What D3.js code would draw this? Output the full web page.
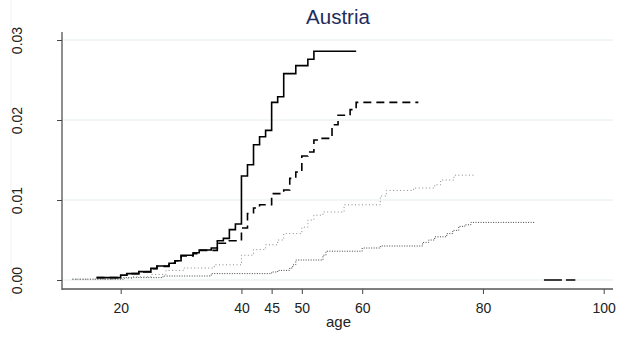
<!DOCTYPE html>
<html>
<head>
<meta charset="utf-8">
<script src="https://cdn.jsdelivr.net/npm/d3@7"></script>
<style>
  html, body { margin: 0; padding: 0; background: #fff; }
  svg { display: block; font-family: "Liberation Sans", Arial, sans-serif; }
</style>
</head>
<body>
<svg id="chart" width="630" height="342"></svg>
<script>
// ---- data ----
const title = "Austria";
const xLabel = "age";
const xTicks = [20, 40, 45, 50, 60, 80, 100];
const yTicks = [0, 0.01, 0.02, 0.03];

// series 1: solid
const solidAges = [16, 20, 21, 23, 25, 26, 28, 29, 30, 32, 33, 35, 36, 37, 38, 39, 40, 41, 42, 43, 44, 45, 46, 47, 49, 51, 52, 59];
const solidVals = [0.0003, 0.0006, 0.0008, 0.00105, 0.00145, 0.00175, 0.0021, 0.0024, 0.0031, 0.0034, 0.00375, 0.0040, 0.0049, 0.0052, 0.0063, 0.0070, 0.0130, 0.0144, 0.0169, 0.0179, 0.0187, 0.0222, 0.0229, 0.0258, 0.0268, 0.0276, 0.0286, 0.0286];

// series 2: dashed
const dashedAges = [16, 20, 21, 23, 25, 26, 28, 29, 30, 32, 33, 36, 38, 40, 41, 42, 43, 45, 47, 48, 49, 50, 51, 52, 53, 55, 56, 58, 59, 69.3];
const dashedVals = [0.0003, 0.0006, 0.0008, 0.0010, 0.0014, 0.0017, 0.0021, 0.0024, 0.0030, 0.0033, 0.0037, 0.0046, 0.0049, 0.0065, 0.0083, 0.0090, 0.0094, 0.0108, 0.01125, 0.0127, 0.0135, 0.0155, 0.0160, 0.0175, 0.0177, 0.0194, 0.0206, 0.0213, 0.0222, 0.0222];

// series 3: light dotted (upper)
const dotAAges = [12, 19, 22, 25, 27.5, 30.5, 35.5, 40, 42, 44, 46, 47, 50, 51, 52, 53.5, 57, 63, 64, 68.5, 72, 73, 75.2, 78.8];
const dotAVals = [0.0001, 0.0002, 0.0004, 0.0007, 0.0012, 0.0015, 0.0019, 0.0031, 0.0038, 0.0044, 0.0050, 0.0058, 0.0066, 0.0075, 0.0081, 0.0085, 0.0094, 0.0105, 0.0112, 0.0115, 0.0119, 0.0125, 0.0131, 0.0131];

// series 4: dark dotted (lower)
const dotBAges = [12, 20.5, 27, 35, 45, 46, 48, 48.5, 49, 53.5, 54, 60, 63, 70, 71, 72, 74, 75, 76, 77, 78, 88.7];
const dotBVals = [0.0001, 0.0003, 0.0005, 0.0008, 0.0010, 0.0012, 0.0015, 0.0019, 0.0025, 0.0031, 0.0036, 0.0040, 0.00425, 0.0047, 0.0050, 0.0054, 0.0058, 0.0062, 0.0067, 0.0069, 0.0072, 0.0072];

// series 5: long dash at zero
const longAges = [90.1, 95.3];
const longVals = [0, 0];

// ---- drawing ----
const svg = d3.select("#chart");
svg.append("rect").attr("width", 630).attr("height", 342).attr("fill", "#fff");

const x = d3.scaleLinear().domain([20, 100]).range([120.7, 603.7]);
const y = d3.scaleLinear().domain([0, 0.03]).range([280, 40]);
const plotLeft = 62, plotRight = 613, axisY = 289, plotTop = 32;

// faint outer border line
svg.append("line").attr("x1", 11).attr("x2", 11).attr("y1", 0).attr("y2", 300)
  .attr("stroke", "#eef3f4").attr("stroke-width", 1);

// gridlines
svg.append("g").selectAll("line").data(yTicks).join("line")
  .attr("x1", plotLeft).attr("x2", plotRight)
  .attr("y1", d => y(d)).attr("y2", d => y(d))
  .attr("stroke", "#e3ecee").attr("stroke-width", 1);

// y axis
const yAxis = d3.axisLeft(y).tickValues(yTicks).tickSize(5).tickFormat(d3.format(".2f"));
const gy = svg.append("g").attr("transform", `translate(${plotLeft},0)`).call(yAxis);
gy.select(".domain").remove();
gy.selectAll(".tick line").attr("stroke", "#444").attr("stroke-width", 1);
gy.selectAll(".tick text")
  .attr("transform", "translate(-40,0) rotate(-90)")
  .attr("x", 0).attr("y", 0).attr("dy", "0")
  .attr("text-anchor", "middle")
  .attr("font-size", 14).attr("fill", "#222")
  .attr("font-family", "Liberation Sans, Arial, sans-serif");
svg.append("line").attr("x1", plotLeft).attr("x2", plotLeft).attr("y1", plotTop).attr("y2", axisY + 1)
  .attr("stroke", "#444").attr("stroke-width", 1.2);

// x axis
const xAxis = d3.axisBottom(x).tickValues(xTicks).tickSize(5).tickFormat(d3.format("d"));
const gx = svg.append("g").attr("transform", `translate(0,${axisY})`).call(xAxis);
gx.select(".domain").remove();
gx.selectAll(".tick line").attr("stroke", "#444").attr("stroke-width", 1);
gx.selectAll(".tick text").attr("y", 24).attr("dy", "0")
  .attr("font-size", 14).attr("fill", "#222")
  .attr("font-family", "Liberation Sans, Arial, sans-serif");
svg.append("line").attr("x1", plotLeft).attr("x2", plotRight).attr("y1", axisY).attr("y2", axisY)
  .attr("stroke", "#555").attr("stroke-width", 1.5);

// lines
const line = d3.line().x(d => x(d[0])).y(d => y(d[1])).curve(d3.curveStepAfter);
const zip = (a, v) => a.map((d, i) => [d, v[i]]);

const series = [
  { data: zip(dotBAges, dotBVals), stroke: "#444", width: 1, dash: "1,1.5" },
  { data: zip(dotAAges, dotAVals), stroke: "#888", width: 1, dash: "1,2.5" },
  { data: zip(dashedAges, dashedVals), stroke: "#000", width: 1.6, dash: "8,5" },
  { data: zip(solidAges, solidVals), stroke: "#000", width: 1.6, dash: null },
  { data: zip(longAges, longVals), stroke: "#000", width: 1.6, dash: "18,4" }
];
svg.append("g").selectAll("path").data(series).join("path")
  .attr("d", d => line(d.data))
  .attr("fill", "none")
  .attr("stroke", d => d.stroke)
  .attr("stroke-width", d => d.width)
  .attr("stroke-dasharray", d => d.dash);

// title and x label
svg.append("text").attr("x", 338).attr("y", 24).attr("text-anchor", "middle")
  .attr("font-size", 20.5).attr("fill", "#1e2d5c").text(title);
svg.append("text").attr("x", 338.5).attr("y", 327).attr("text-anchor", "middle")
  .attr("font-size", 15).attr("fill", "#222").text(xLabel);
</script>
</body>
</html>
